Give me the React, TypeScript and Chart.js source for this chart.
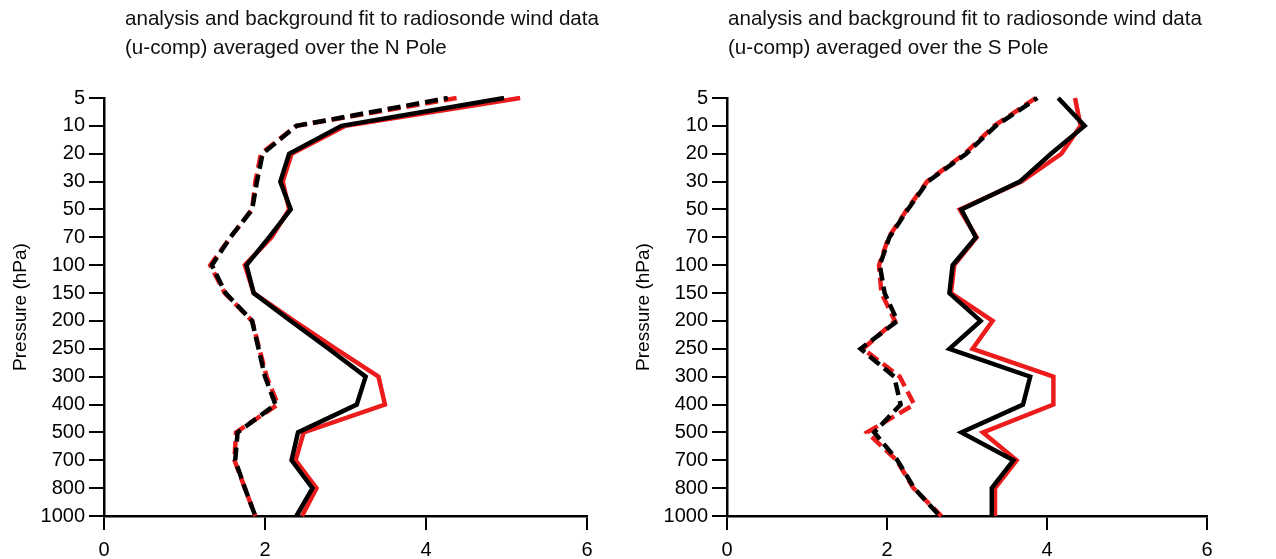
import React, { useEffect, useRef } from "react";
import { Chart, registerables } from "chart.js";

Chart.register(...registerables);

const levels = ["5", "10", "20", "30", "50", "70", "100", "150", "200", "250", "300", "400", "500", "700", "800", "1000"];
const xTicks = [0, 2, 4, 6];

// N Pole
const nBgBlack = [4.97, 2.95, 2.3, 2.19, 2.32, 2.05, 1.77, 1.86, 2.32, 2.79, 3.25, 3.14, 2.41, 2.33, 2.59, 2.39];
const nBgRed = [5.17, 3.0, 2.33, 2.22, 2.3, 2.08, 1.75, 1.86, 2.36, 2.88, 3.41, 3.49, 2.48, 2.38, 2.64, 2.46];
const nAnBlack = [4.27, 2.39, 1.97, 1.9, 1.84, 1.57, 1.34, 1.51, 1.84, 1.92, 2.0, 2.13, 1.66, 1.63, 1.75, 1.88];
const nAnRed = [4.38, 2.39, 1.95, 1.88, 1.84, 1.57, 1.32, 1.5, 1.84, 1.93, 2.02, 2.16, 1.64, 1.62, 1.75, 1.88];

// S Pole
const sBgBlack = [4.14, 4.47, 4.05, 3.66, 2.93, 3.11, 2.82, 2.78, 3.17, 2.78, 3.79, 3.7, 2.93, 3.58, 3.31, 3.31];
const sBgRed = [4.35, 4.42, 4.18, 3.68, 2.91, 3.12, 2.84, 2.8, 3.32, 3.07, 4.08, 4.08, 3.2, 3.62, 3.35, 3.35];
const sAnBlack = [3.88, 3.36, 2.99, 2.51, 2.26, 2.03, 1.91, 1.97, 2.13, 1.67, 2.09, 2.17, 1.84, 2.13, 2.34, 2.66];
const sAnRed = [3.86, 3.34, 2.97, 2.5, 2.25, 2.02, 1.9, 1.93, 2.1, 1.7, 2.16, 2.34, 1.75, 2.12, 2.33, 2.68];

const titleLine1 = "analysis and background fit to radiosonde wind data";
const titleN = "(u-comp) averaged over the N Pole";
const titleS = "(u-comp) averaged over the S Pole";
const yTitle = "Pressure (hPa)";

const RED = "rgb(236,28,28)";
const FONT = "'Liberation Sans', Arial, Helvetica, sans-serif";

function Panel(props: {
  left: number;
  width: number;
  rightPad: number;
  bgBlack: number[];
  bgRed: number[];
  anBlack: number[];
  anRed: number[];
}) {
  const ref = useRef<HTMLCanvasElement | null>(null);
  useEffect(() => {
    if (!ref.current) return;
    const ds = (data: number[], color: string, dashed: boolean, off: number) => ({
      data,
      borderColor: color,
      backgroundColor: color,
      borderWidth: 4.5,
      pointRadius: 0,
      tension: 0,
      fill: false,
      borderDash: dashed ? [13, 6] : [],
      borderDashOffset: off,
      borderJoinStyle: "miter" as const,
    });
    const chart = new Chart(ref.current, {
      type: "line",
      data: {
        labels: levels,
        datasets: [
          ds(props.bgBlack, "#000", false, 0),
          ds(props.anBlack, "#000", true, 9),
          ds(props.bgRed, RED, false, 0),
          ds(props.anRed, RED, true, 0),
        ],
      },
      options: {
        animation: false,
        responsive: false,
        devicePixelRatio: 1,
        indexAxis: "y",
        layout: { padding: { top: 98, right: props.rightPad, left: 0, bottom: 0 } },
        plugins: { legend: { display: false }, tooltip: { enabled: false }, title: { display: false } },
        scales: {
          x: {
            type: "linear",
            min: 0,
            max: 6,
            afterBuildTicks: (s: any) => {
              s.ticks = xTicks.map((v) => ({ value: v }));
            },
            afterFit: (s: any) => {
              s.height = 43;
            },
            ticks: { color: "#000", font: { family: FONT, size: 20 }, padding: 8, maxRotation: 0 },
            grid: { drawOnChartArea: false, drawTicks: true, tickLength: 14, color: "#000", lineWidth: 2 },
            border: { display: true, color: "#000", width: 2.5 },
          },
          y: {
            type: "category",
            afterFit: (s: any) => {
              s.width = 104;
            },
            ticks: { color: "#000", font: { family: FONT, size: 20 }, padding: 4, autoSkip: false },
            grid: { drawOnChartArea: false, drawTicks: true, tickLength: 15, color: "#000", lineWidth: 2 },
            border: { display: true, color: "#000", width: 2.5 },
            title: { display: true, text: yTitle, color: "#000", font: { family: FONT, size: 19 }, padding: { top: 9, bottom: 0 } },
          },
        },
      },
    } as any);
    return () => chart.destroy();
  }, []);
  return (
    <canvas
      ref={ref}
      width={props.width}
      height={559}
      style={{ position: "absolute", left: props.left, top: 0, width: props.width, height: 559 }}
    />
  );
}

const titleStyle: React.CSSProperties = {
  position: "absolute",
  top: 3,
  fontFamily: FONT,
  fontSize: 20.6,
  lineHeight: "29px",
  color: "#111",
  whiteSpace: "nowrap",
};

export default function App() {
  return (
    <div style={{ position: "fixed", left: 0, top: 0, width: 1276, height: 559, background: "#fff", overflow: "hidden" }}>
      <Panel left={0} width={630} rightPad={43} bgBlack={nBgBlack} bgRed={nBgRed} anBlack={nAnBlack} anRed={nAnRed} />
      <Panel left={623} width={653} rightPad={69} bgBlack={sBgBlack} bgRed={sBgRed} anBlack={sAnBlack} anRed={sAnRed} />
      <div style={{ ...titleStyle, left: 125 }}>
        {titleLine1}
        <br />
        {titleN}
      </div>
      <div style={{ ...titleStyle, left: 728 }}>
        {titleLine1}
        <br />
        {titleS}
      </div>
    </div>
  );
}
